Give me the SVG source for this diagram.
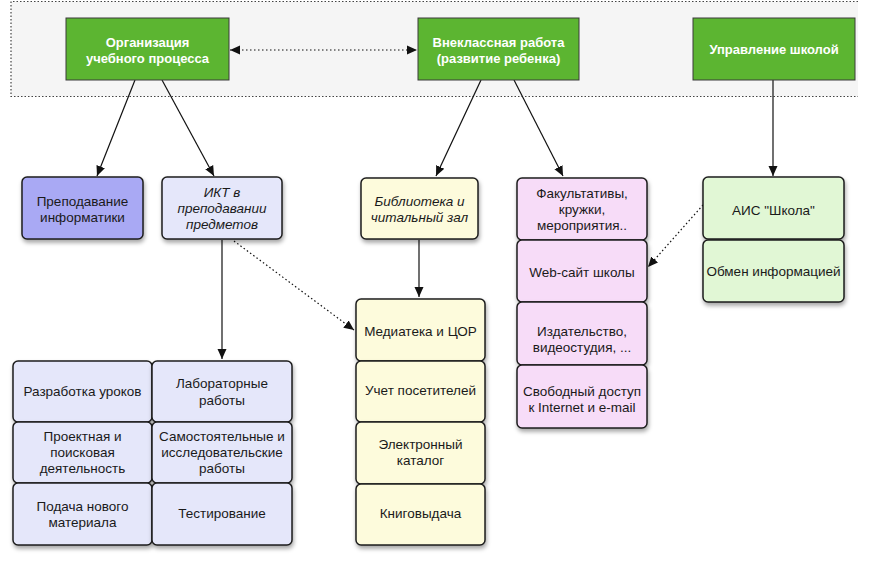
<svg xmlns="http://www.w3.org/2000/svg" width="869" height="575" viewBox="0 0 869 575">
<defs>
<style>
.t{font-family:"Liberation Sans",Arial,sans-serif;font-size:13.5px;fill:#1a1a1a;text-anchor:middle}
.i{font-style:italic}
.w{fill:#fff;font-weight:bold;font-size:13px}
.g{fill:#5cb531;stroke:#3a3a3a;stroke-width:1}
.b{stroke:#1e1e1e;stroke-width:1.5;filter:url(#sh)}
.ln{stroke:#111;stroke-width:1.2;fill:none}
.dt{stroke:#111;stroke-width:1.2;fill:none;stroke-dasharray:1.5 2.5}
</style>
<filter id="sh" x="-20%" y="-20%" width="140%" height="150%">
<feDropShadow dx="1" dy="3" stdDeviation="2" flood-color="#000" flood-opacity="0.35"/>
</filter>
<marker id="ah" viewBox="0 0 10 10" refX="10" refY="5" markerWidth="10" markerHeight="10" markerUnits="userSpaceOnUse" orient="auto-start-reverse">
<path d="M0,0.5 L10,5 L0,9.5 z" fill="#111"/>
</marker>
</defs>
<rect x="0" y="0" width="869" height="575" fill="#fff"/>
<rect x="11" y="1.5" width="847" height="95" fill="#f5f5f5"/>
<path d="M858,1.5 H11 V96.5 H858" fill="none" stroke="#444" stroke-width="1.2" stroke-dasharray="1.5 2"/>

<g id="connectors">
<line class="dt" x1="230" y1="50" x2="417" y2="50" marker-start="url(#ah)" marker-end="url(#ah)"/>
<line class="ln" x1="135" y1="80" x2="97" y2="176" marker-end="url(#ah)"/>
<line class="ln" x1="162" y1="80" x2="214" y2="176" marker-end="url(#ah)"/>
<line class="ln" x1="481" y1="80" x2="436" y2="176" marker-end="url(#ah)"/>
<line class="ln" x1="514" y1="80" x2="563" y2="176" marker-end="url(#ah)"/>
<line class="ln" x1="773" y1="80" x2="773" y2="176" marker-end="url(#ah)"/>
<line class="ln" x1="222" y1="240" x2="222" y2="359" marker-end="url(#ah)"/>
<line class="ln" x1="419" y1="240" x2="419" y2="297" marker-end="url(#ah)"/>
<line class="dt" x1="234" y1="241" x2="354" y2="330" marker-end="url(#ah)"/>
<line class="dt" x1="703" y1="205" x2="648" y2="267" marker-end="url(#ah)"/>
</g>

<g id="org"><rect class="g" x="66" y="18" width="163" height="62"/><text class="t w" x="147.5" y="47">Организация</text><text class="t w" x="147.5" y="63">учебного процесса</text></g>
<g id="vneklass"><rect class="g" x="418" y="18" width="161" height="62"/><text class="t w" x="498.5" y="47">Внеклассная работа</text><text class="t w" x="498.5" y="63">(развитие ребенка)</text></g>
<g id="upravl"><rect class="g" x="693" y="18" width="162" height="62"/><text class="t w" x="774" y="54">Управление школой</text></g>

<g id="prepod"><rect class="b" x="22" y="177" width="121" height="62" rx="5" fill="#a9a9f4"/><text class="t" x="82.5" y="206">Преподавание</text><text class="t" x="82.5" y="222">информатики</text></g>
<g id="ikt"><rect class="b" x="162" y="177" width="120" height="62" rx="5" fill="#e5e7fa"/><text class="t i" x="222" y="197">ИКТ в</text><text class="t i" x="222" y="213">преподавании</text><text class="t i" x="222" y="229">предметов</text></g>
<g id="bibl"><rect class="b" x="361" y="178" width="117" height="61" rx="5" fill="#fdfbdc"/><text class="t i" x="419.5" y="206">Библиотека и</text><text class="t i" x="419.5" y="222">читальный зал</text></g>

<g id="fakult"><rect class="b" x="517" y="178" width="130" height="62" rx="5" fill="#f7dcf8"/><text class="t" x="582" y="198">Факультативы,</text><text class="t" x="582" y="214">кружки,</text><text class="t" x="582" y="230">мероприятия..</text></g>
<g id="web"><rect class="b" x="517" y="240" width="130" height="62" rx="5" fill="#f7dcf8"/><text class="t" x="582" y="277">Web-сайт школы</text></g>
<g id="izdat"><rect class="b" x="517" y="302" width="130" height="63" rx="5" fill="#f7dcf8"/><text class="t" x="582" y="336">Издательство,</text><text class="t" x="582" y="352">видеостудия, ...</text></g>
<g id="svob"><rect class="b" x="517" y="365" width="130" height="63" rx="5" fill="#f7dcf8"/><text class="t" x="582" y="396">Свободный доступ</text><text class="t" x="582" y="412">к Internet и e-mail</text></g>

<g id="ais"><rect class="b" x="703" y="177" width="141" height="62" rx="5" fill="#e1f7d5"/><text class="t" x="773.5" y="215">АИС "Школа"</text></g>
<g id="obmen"><rect class="b" x="703" y="240" width="141" height="62" rx="5" fill="#e1f7d5"/><text class="t" x="773.5" y="276">Обмен информацией</text></g>

<g id="media"><rect class="b" x="356" y="299" width="129" height="62" rx="5" fill="#fdfbdc"/><text class="t" x="420.5" y="336">Медиатека и ЦОР</text></g>
<g id="uchet"><rect class="b" x="356" y="361" width="129" height="61" rx="5" fill="#fdfbdc"/><text class="t" x="420.5" y="395">Учет посетителей</text></g>
<g id="katalog"><rect class="b" x="356" y="422" width="129" height="62" rx="5" fill="#fdfbdc"/><text class="t" x="420.5" y="449">Электронный</text><text class="t" x="420.5" y="465">каталог</text></g>
<g id="kniga"><rect class="b" x="356" y="484" width="129" height="61" rx="5" fill="#fdfbdc"/><text class="t" x="420.5" y="518">Книговыдача</text></g>

<g id="razrab"><rect class="b" x="13" y="361" width="139" height="61" rx="5" fill="#e5e7fa"/><text class="t" x="82.5" y="396">Разработка уроков</text></g>
<g id="labor"><rect class="b" x="152" y="361" width="140" height="61" rx="5" fill="#e5e7fa"/><text class="t" x="222" y="388">Лабораторные</text><text class="t" x="222" y="405">работы</text></g>
<g id="proekt"><rect class="b" x="13" y="422" width="139" height="61" rx="5" fill="#e5e7fa"/><text class="t" x="82.5" y="441">Проектная и</text><text class="t" x="82.5" y="457">поисковая</text><text class="t" x="82.5" y="473">деятельность</text></g>
<g id="samost"><rect class="b" x="152" y="422" width="140" height="61" rx="5" fill="#e5e7fa"/><text class="t" x="222" y="441">Самостоятельные и</text><text class="t" x="222" y="457">исследовательские</text><text class="t" x="222" y="473">работы</text></g>
<g id="podacha"><rect class="b" x="13" y="483" width="139" height="62" rx="5" fill="#e5e7fa"/><text class="t" x="82.5" y="511">Подача нового</text><text class="t" x="82.5" y="527">материала</text></g>
<g id="test"><rect class="b" x="152" y="483" width="140" height="62" rx="5" fill="#e5e7fa"/><text class="t" x="222" y="518">Тестирование</text></g>
</svg>
